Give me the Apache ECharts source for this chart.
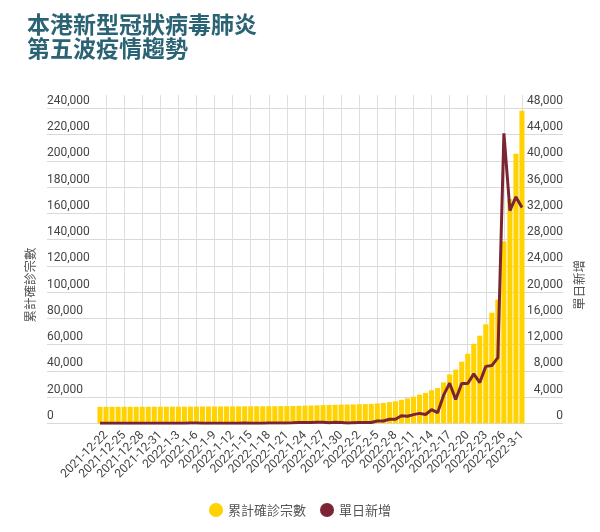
<!DOCTYPE html>
<html>
<head>
<meta charset="utf-8">
<script src="https://cdn.jsdelivr.net/npm/echarts@6/dist/echarts.min.js"></script>
<style>
html,body{margin:0;padding:0;background:#fff;}
#chart{width:600px;height:532px;}
</style>
</head>
<body>
<div id="chart"></div>
<script>
var dates = [
 '2021-12-21','2021-12-22','2021-12-23','2021-12-24','2021-12-25','2021-12-26','2021-12-27','2021-12-28','2021-12-29','2021-12-30','2021-12-31',
 '2022-1-1','2022-1-2','2022-1-3','2022-1-4','2022-1-5','2022-1-6','2022-1-7','2022-1-8','2022-1-9','2022-1-10',
 '2022-1-11','2022-1-12','2022-1-13','2022-1-14','2022-1-15','2022-1-16','2022-1-17','2022-1-18','2022-1-19','2022-1-20',
 '2022-1-21','2022-1-22','2022-1-23','2022-1-24','2022-1-25','2022-1-26','2022-1-27','2022-1-28','2022-1-29','2022-1-30','2022-1-31',
 '2022-2-1','2022-2-2','2022-2-3','2022-2-4','2022-2-5','2022-2-6','2022-2-7','2022-2-8','2022-2-9','2022-2-10',
 '2022-2-11','2022-2-12','2022-2-13','2022-2-14','2022-2-15','2022-2-16','2022-2-17','2022-2-18','2022-2-19','2022-2-20',
 '2022-2-21','2022-2-22','2022-2-23','2022-2-24','2022-2-25','2022-2-26','2022-2-27','2022-2-28','2022-3-1'
];
var cumulative = [
 12520,12528,12540,12546,12556,12564,12576,12591,12605,12615,12635,
 12647,12657,12672,12692,12730,12758,12771,12792,12810,12833,
 12847,12872,12891,12922,12941,12966,12983,13013,13040,13074,
 13101,13167,13307,13429,13544,13708,13872,13972,14114,14245,14305,
 14405,14536,14653,14784,15135,15495,16109,16734,17895,18973,
 20298,21812,23159,25230,26849,31134,37250,40879,46942,53009,
 60542,66753,75427,84225,94235,138435,170835,205335,238235
];
var daily = [
 10,8,12,6,10,8,12,15,14,10,20,
 12,10,15,20,38,28,13,21,18,23,
 14,25,19,31,19,25,17,30,27,34,
 27,66,140,122,115,164,164,100,142,131,60,
 100,131,117,131,351,360,614,625,1161,1078,
 1325,1514,1347,2071,1619,4285,6116,3629,6063,6067,
 7533,6211,8674,8798,10010,44200,32400,34500,32900
];
var leftTicks = {min:0, max:240000, interval:20000};
var rightTicks = {min:0, max:48000, interval:4000};
var seriesNames = ['累計確診宗數','單日新增'];
var titleLines = ['本港新型冠狀病毒肺炎','第五波疫情趨勢'];

var numFont = 'Roboto, "Noto Sans CJK TC", sans-serif';
var cjkFont = '"Noto Sans CJK TC", sans-serif';
function fmt(v){ return v.toLocaleString('en-US'); }

var chart = echarts.init(document.getElementById('chart'));
var bottomPx = 108.7;
chart.setOption({
  animation:false,
  backgroundColor:'#fff',
  title:{
    text: titleLines.join('\n'),
    left:22, top:7,
    textStyle:{fontSize:23, fontWeight:'bold', color:'#2a6374', lineHeight:24, fontFamily:cjkFont}
  },
  legend:{
    bottom:10, left:'center',
    icon:'circle', itemWidth:14, itemHeight:14, itemGap:14,
    textStyle:{fontSize:13, color:'#555', fontFamily:cjkFont},
    data: seriesNames
  },
  graphic:[
    {type:'text', x:30, y:285, rotation:Math.PI/2,
     style:{text:seriesNames[0], align:'center', verticalAlign:'middle', fontSize:12.5, fill:'#555', fontFamily:cjkFont}},
    {type:'text', x:579, y:285, rotation:Math.PI/2,
     style:{text:seriesNames[1], align:'center', verticalAlign:'middle', fontSize:12.5, fill:'#555', fontFamily:cjkFont}}
  ],
  grid:[
    {left:97, right:75, top:95.2, bottom:bottomPx, containLabel:false},
    {left:47, right:37, top:108.3, bottom:bottomPx, containLabel:false}
  ],
  xAxis:[
    {type:'category', gridIndex:0, data:dates, boundaryGap:true,
     axisLine:{show:false}, axisTick:{show:false},
     axisLabel:{interval:function(i){return i%3===1;}, rotate:45, margin:10, fontSize:12, color:'#444', fontFamily:numFont},
     splitLine:{show:true, interval:function(i){return i%3===1;}, alignWithLabel:true, lineStyle:{color:'#dedede', width:1}},
     z:1},
    {type:'value', gridIndex:1, min:0, max:1, show:false}
  ],
  yAxis:[
    {type:'value', gridIndex:0, min:0, max:250000, show:false, splitLine:{show:false}},
    {type:'value', gridIndex:0, min:0, max:50000, show:false, position:'right', splitLine:{show:false}},
    {type:'value', gridIndex:1, min:leftTicks.min, max:leftTicks.max, interval:leftTicks.interval, position:'left',
     axisLine:{show:false}, axisTick:{show:false},
     axisLabel:{inside:true, margin:0, align:'left', verticalAlign:'bottom', lineHeight:15, fontSize:12, color:'#444', fontFamily:numFont, formatter:fmt},
     splitLine:{show:true, lineStyle:{color:'#d9d9d9', width:1}}},
    {type:'value', gridIndex:1, min:rightTicks.min, max:rightTicks.max, interval:rightTicks.interval, position:'right',
     axisLine:{show:false}, axisTick:{show:false},
     axisLabel:{inside:true, margin:0, align:'right', verticalAlign:'bottom', lineHeight:15, fontSize:12, color:'#444', fontFamily:numFont, formatter:fmt},
     splitLine:{show:false}}
  ],
  series:[
    {name:seriesNames[0], type:'bar', xAxisIndex:0, yAxisIndex:0, data:cumulative,
     barCategoryGap:'16%', itemStyle:{color:'#ffd200'}, z:2},
    {name:seriesNames[1], type:'line', xAxisIndex:0, yAxisIndex:1, data:daily,
     symbol:'none', showSymbol:false, lineStyle:{color:'#7b2434', width:3}, itemStyle:{color:'#7b2434'}, z:3}
  ]
});
</script>
</body>
</html>
